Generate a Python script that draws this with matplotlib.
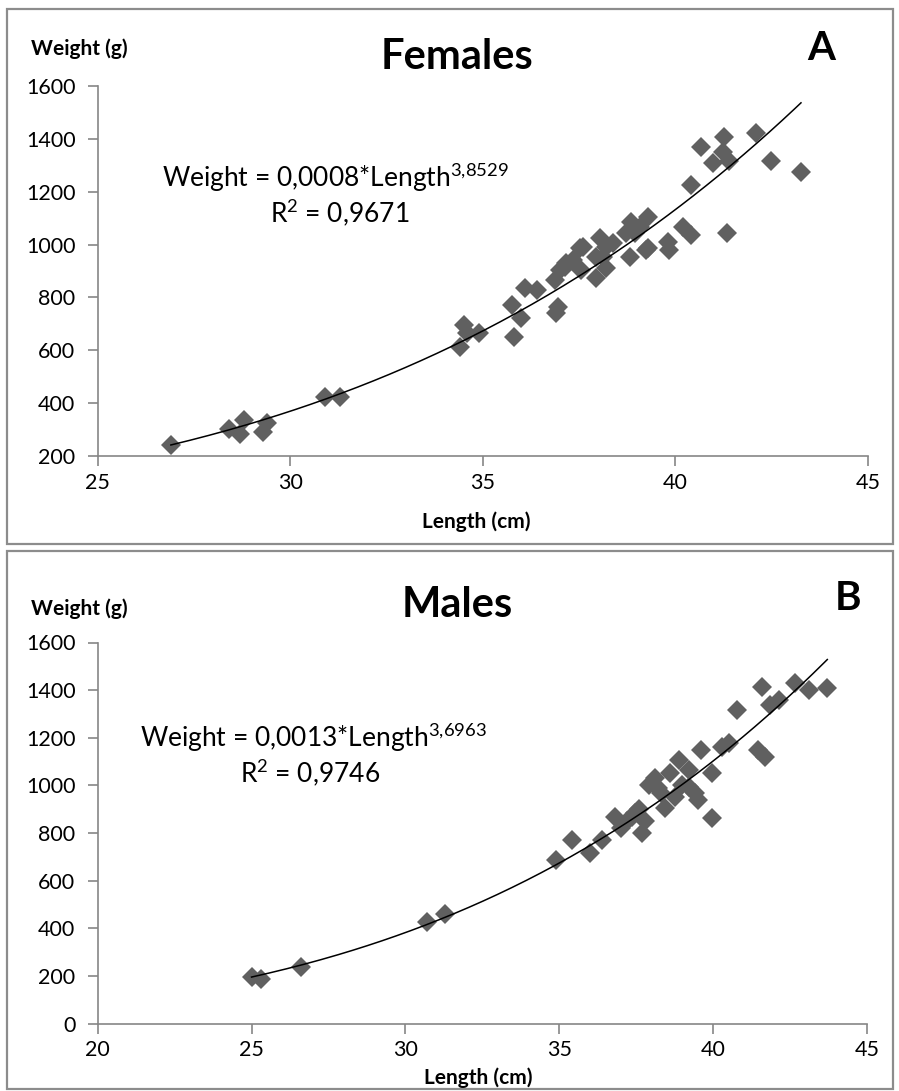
import numpy as np
import matplotlib.pyplot as plt
from matplotlib.patches import Rectangle

plt.rcParams['font.family'] = ['Lato', 'DejaVu Sans']
plt.rcParams['mathtext.fontset'] = 'custom'
plt.rcParams['mathtext.rm'] = 'Lato'
plt.rcParams['mathtext.it'] = 'Lato'
plt.rcParams['mathtext.bf'] = 'Lato:bold'

# Panel A - females, length (cm) / weight (g)
female_length = [26.9, 28.4, 28.8, 28.7, 29.3, 29.4, 30.9, 31.3, 34.4, 34.5,
                 34.6, 34.9, 35.8, 35.75, 36.0, 36.1, 36.4, 36.9, 36.95, 36.87,
                 37.0, 37.12, 37.17, 37.34, 37.51, 37.56, 37.6, 37.94, 37.94, 38.03,
                 38.12, 38.2, 38.2, 38.38, 38.72, 38.81, 38.85, 38.94, 39.07, 39.24,
                 39.28, 39.28, 39.8, 39.84, 40.19, 40.4, 40.4, 40.66, 41.23, 41.27,
                 40.97, 41.35, 41.4, 42.09, 42.48, 43.26]
female_weight = [240, 302, 336, 285, 292, 325, 423, 423, 614, 696,
                 665, 665, 651, 771, 721, 834, 828, 740, 765, 866,
                 904, 916, 929, 942, 986, 904, 992, 872, 954, 1023,
                 954, 910, 992, 1005, 1042, 954, 1087, 1042, 1068, 979,
                 986, 1105, 1011, 979, 1068, 1036, 1225, 1370, 1352, 1408,
                 1309, 1042, 1315, 1421, 1315, 1276]

# Panel B - males
male_length = [25.0, 25.3, 26.6, 30.7, 31.3, 34.9, 35.4, 36.0, 36.4, 36.8,
               37.0, 37.2, 37.35, 37.46, 37.6, 37.7, 37.8, 37.9, 38.1, 38.2,
               38.3, 38.45, 38.6, 38.75, 38.9, 39.0, 39.2, 39.2, 39.4, 39.5,
               39.6, 39.95, 39.95, 40.3, 40.5, 40.77, 41.45, 41.6, 41.7, 41.86,
               42.13, 42.67, 43.11, 43.71]
male_weight = [197, 185, 239, 428, 460, 687, 771, 715, 771, 869,
               820, 850, 869, 883, 900, 799, 850, 1000, 1030, 990,
               967, 905, 1050, 953, 1107, 1000, 1065, 995, 970, 939,
               1149, 1051, 862, 1163, 1180, 1317, 1150, 1415, 1121, 1338,
               1359, 1429, 1401, 1408]

female_eq = ("Weight = 0,0008*Length$^{3{,}8529}$", "R$^{2}$ = 0,9671")
male_eq = ("Weight = 0,0013*Length$^{3{,}6963}$", "R$^{2}$ = 0,9746")

W, H = 899, 1091
fig = plt.figure(figsize=(W / 100, H / 100), dpi=100)


def fx(x):
    return x / W


def fy(y):
    return 1 - y / H


def draw_panel(frame, box, L, Wt, xlim, ylim, xstep, title, letter, eq, texts):
    # outer frame of the panel
    x0, y0, x1, y1 = frame
    fig.patches.append(Rectangle((fx(x0), fy(y1)), fx(x1 - x0), (y1 - y0) / H,
                                 transform=fig.transFigure, fill=False,
                                 edgecolor='#8c8c8c', linewidth=1.6))
    l, t, r, b = box
    ax = fig.add_axes([fx(l), fy(b), fx(r - l), (b - t) / H])
    ax.plot(L, Wt, linestyle='none', marker='D', markersize=10,
            color='#606060', markeredgewidth=0)

    # power trend line, fitted from the points (like Excel)
    k, c = np.polyfit(np.log(L), np.log(Wt), 1)
    xs = np.linspace(min(L), max(L), 200)
    ax.plot(xs, np.exp(c) * xs ** k, color='black', linewidth=1.1)

    ax.set_xlim(*xlim)
    ax.set_ylim(*ylim)
    ax.set_xticks(np.arange(xlim[0], xlim[1] + 1, xstep))
    ax.set_yticks(np.arange(ylim[0], ylim[1] + 1, 200))
    for s in ['top', 'right']:
        ax.spines[s].set_visible(False)
    for s in ['left', 'bottom']:
        ax.spines[s].set_color('#868686')
        ax.spines[s].set_linewidth(1.2)
    ax.tick_params(axis='both', direction='out', length=7, width=1.2,
                   color='#868686', labelsize=15.5)
    ax.tick_params(axis='y', pad=9)
    ax.tick_params(axis='x', pad=5)

    (tx, ty), (lx, ly), (wx, wy), (xlx, xly), (e1x, e1y), (e2x, e2y) = texts
    fig.text(fx(tx), fy(ty), title, fontsize=30, fontweight='bold',
             ha='center', va='center')
    fig.text(fx(lx), fy(ly), letter, fontsize=29, fontweight='bold',
             ha='center', va='center')
    fig.text(fx(wx), fy(wy), "Weight (g)", fontsize=15, fontweight='bold',
             ha='left', va='center')
    fig.text(fx(xlx), fy(xly), "Length (cm)", fontsize=15, fontweight='bold',
             ha='center', va='center')
    fig.text(fx(e1x), fy(e1y), eq[0], fontsize=19, ha='left', va='center')
    fig.text(fx(e2x), fy(e2y), eq[1], fontsize=19, ha='center', va='center')
    return ax


draw_panel((7, 9, 893, 544), (97.7, 86, 868, 456), female_length, female_weight,
           (25, 45), (200, 1600), 5, "Females", "A", female_eq,
           [(457, 57), (821, 48), (31, 49), (476, 522), (162, 178), (340, 213)])

draw_panel((7, 551, 893, 1089), (97.7, 642.5, 867, 1023.5), male_length, male_weight,
           (20, 45), (0, 1600), 5, "Males", "B", male_eq,
           [(457, 605), (848, 598), (31, 609), (478, 1078), (140, 738), (310, 773)])

fig.savefig("out.png", dpi=100)
